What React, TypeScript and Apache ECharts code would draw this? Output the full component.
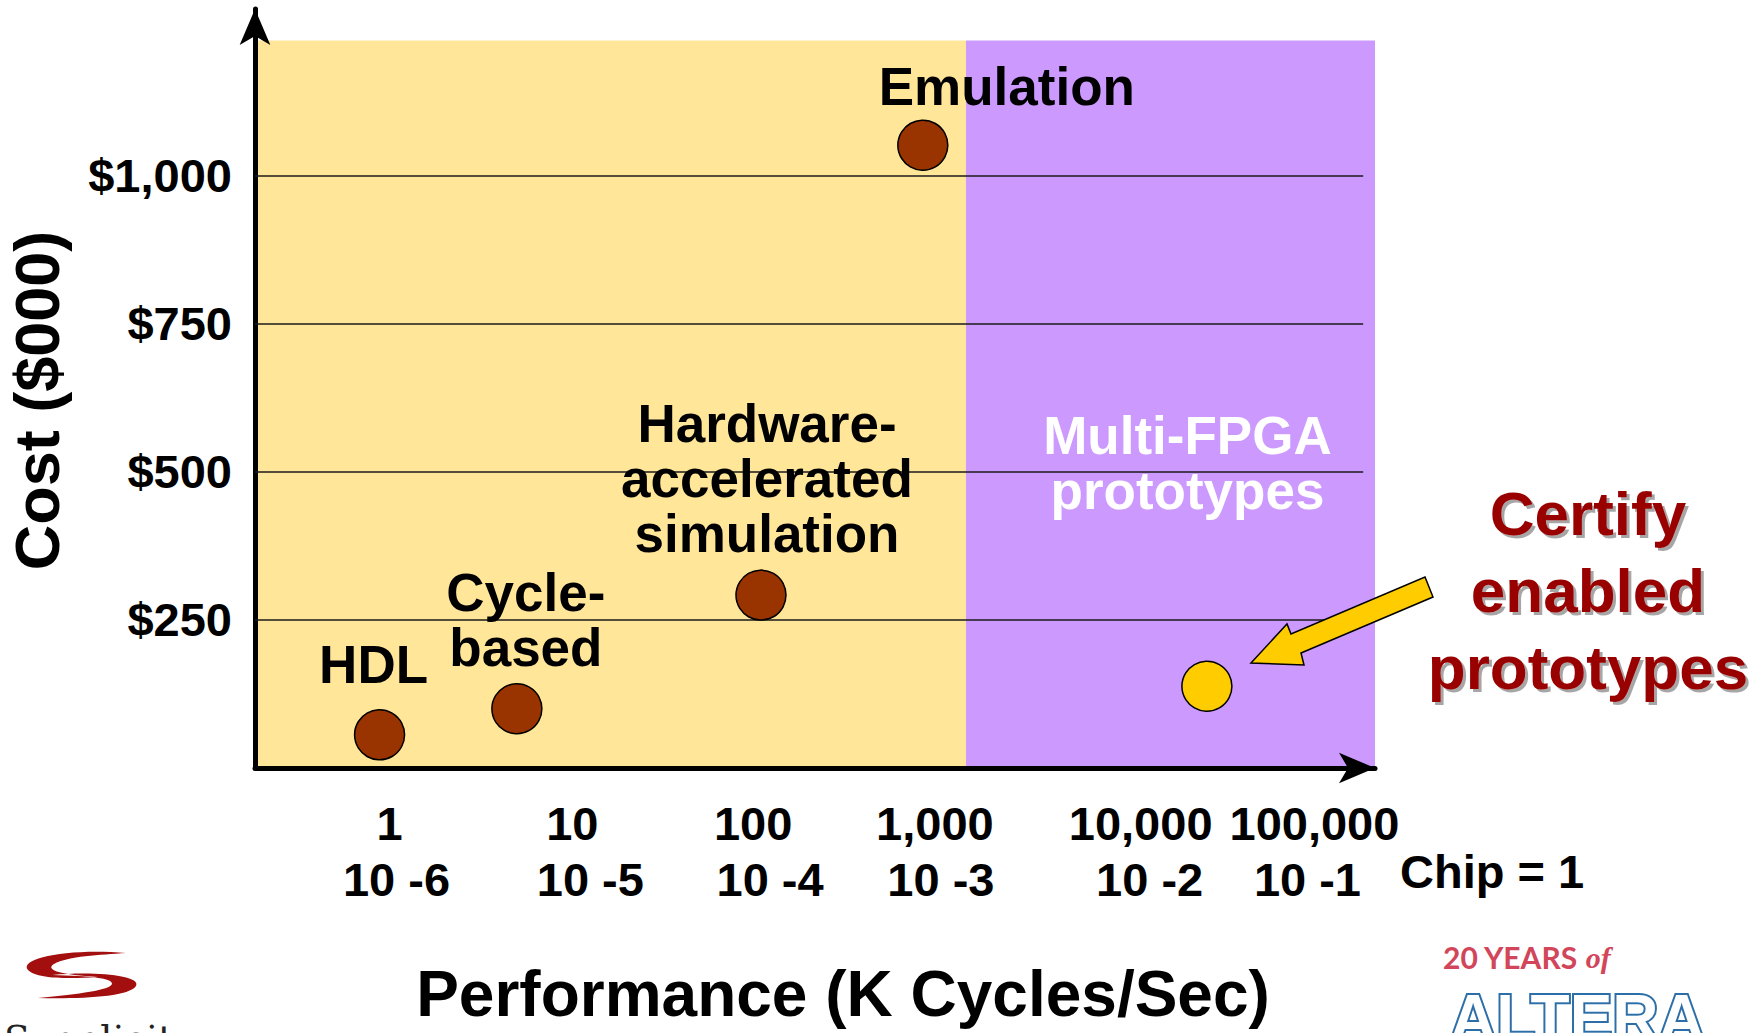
import React, { useEffect, useRef } from "react";
import * as echarts from "echarts";

// ---------------- data ----------------
const TECH_NAMES = ["HDL", "Cycle-based", "Hardware-accelerated simulation", "Emulation", "Certify enabled prototypes"];
const TECH_LABELS = ["HDL", "Cycle-\nbased", "Hardware-\naccelerated\nsimulation", "Emulation", ""];
const PERF_KCPS = [0.87, 5.0, 112, 880, 32800]; // K cycles / sec
const COST_K = [56, 100, 292, 1052, 138]; // $000

const X_TICKS = [1, 10, 100, 1000, 10000, 100000];
const X_TICK_LABELS = ["1", "10", "100", "1,000", "10,000", "100,000"];
const X_CHIP_LABELS = ["10 -6", "10 -5", "10 -4", "10 -3", "10 -2", "10 -1"];
const Y_TICKS = [250, 500, 750, 1000];
const Y_TICK_LABELS = ["$250", "$500", "$750", "$1,000"];

const REGION_LABELS = ["", "Multi-FPGA\nprototypes"];
const REGION_BOUNDS_KCPS = [0.178, 1524, 279000];
const REGION_TOP_COST = 1229;

const X_MIN_KCPS = 0.178;
const X_MAX_KCPS = 279000;
const Y_MAX_COST = 1282;
const GRIDLINE_END_KCPS = 240000;

// ---------------- styles ----------------
const FONT = '"Liberation Sans", Arial, Helvetica, sans-serif';
const DOT_COLORS = ["#993300", "#993300", "#993300", "#993300", "#FFCC00"];
const REGION_COLORS = ["#FFE699", "#CC99FF"];
const LABEL_OFFSETS = [[-6, 0], [9, 0], [6, 0], [84, 0], [0, 0]];
const LABEL_DIST = [17, 8, 8, 5, 0];
const PX_PER_DECADE = 180.77;
const ROW1_NUDGE = [-1, 1, 1, 2, 27, 20];
const ROW2_NUDGE = [6, 19, 18, 8, 36, 13];

const lg = (v: number) => Math.log10(v);
const pad = (n: number) => (n >= 0 ? [0, 0, 0, 2 * n] : [0, -2 * n, 0, 0]);

const SWOOSH =
  "M 126 953 C 70 948 18 958 28 970 C 36 979 70 979 98 977 C 62 975 44 970 54 964 C 68 956 100 955 126 953 Z " +
  "M 52 975 C 92 971 142 975 136 986 C 129 997 80 999 38 998 C 80 994 110 990 112 984 C 113 978 90 976 52 975 Z";

export default function App() {
  const ref = useRef<HTMLDivElement>(null);

  useEffect(() => {
    document.body.style.margin = "0";
    try {
      echarts.graphic.registerShape("synswoosh", echarts.graphic.extendPath(SWOOSH, {}) as any);
    } catch (e) {}
    const chart = echarts.init(ref.current!, null, { renderer: "svg" });

    // label anchor = tick decade, nudged (style) to the slide's hand placement
    const labelAnchors = X_TICKS.map((t, i) => lg(t) + ROW1_NUDGE[i] / PX_PER_DECADE);

    const rich: Record<string, any> = {};
    X_TICKS.forEach((_, i) => {
      rich["a" + i] = { fontSize: 47, fontWeight: "bold", fontFamily: FONT, color: "#000", lineHeight: 56 };
      rich["b" + i] = {
        fontSize: 47,
        fontWeight: "bold",
        fontFamily: FONT,
        color: "#000",
        lineHeight: 56,
        padding: pad(ROW2_NUDGE[i] - ROW1_NUDGE[i]),
      };
    });

    const scatterData = TECH_NAMES.map((name, i) => ({
      name,
      value: [lg(PERF_KCPS[i]), COST_K[i]],
      itemStyle: { color: DOT_COLORS[i] },
      label: {
        show: TECH_LABELS[i] !== "",
        formatter: TECH_LABELS[i],
        offset: LABEL_OFFSETS[i],
        distance: LABEL_DIST[i],
      },
    }));

    const option: any = {
      animation: false,
      backgroundColor: "#fff",
      textStyle: { fontFamily: FONT },
      grid: { left: 255, right: 1755 - 1375, top: 9, bottom: 1033 - 768, containLabel: false, outerBoundsMode: "none" },
      xAxis: {
        type: "value",
        min: lg(X_MIN_KCPS),
        max: lg(X_MAX_KCPS),
        name: "Performance (K Cycles/Sec)",
        nameLocation: "middle",
        nameGap: 194,
        nameTextStyle: { fontSize: 64, fontWeight: "bold", color: "#000", fontFamily: FONT, padding: [0, 0, 0, 56] },
        axisLine: { show: true, onZero: false, lineStyle: { color: "#000", width: 5 }, symbol: ["none", "arrow"], symbolSize: [23, 36] },
        axisTick: { show: false },
        splitLine: { show: false },
        axisLabel: {
          customValues: labelAnchors,
          hideOverlap: false,
          margin: 27,
          formatter: (v: number) => {
            const i = labelAnchors.findIndex((t) => Math.abs(t - v) < 1e-6);
            if (i < 0) return "";
            return "{a" + i + "|" + X_TICK_LABELS[i] + "}\n{b" + i + "|" + X_CHIP_LABELS[i] + "}";
          },
          rich,
        },
      },
      yAxis: {
        type: "value",
        min: 0,
        max: Y_MAX_COST,
        interval: 250,
        name: "Cost ($000)",
        nameLocation: "middle",
        nameGap: 190,
        nameRotate: 90,
        nameTextStyle: { fontSize: 63, lineHeight: 56, fontWeight: "bold", color: "#000", fontFamily: FONT, padding: [0, 24, 0, 0] },
        axisLine: { show: true, onZero: false, lineStyle: { color: "#000", width: 5 }, symbol: ["none", "arrow"], symbolSize: [23, 36] },
        axisTick: { show: false },
        splitLine: { show: false },
        axisLabel: {
          margin: 23,
          fontSize: 47,
          fontWeight: "bold",
          color: "#000",
          fontFamily: FONT,
          showMinLabel: false,
          showMaxLabel: false,
          formatter: (v: number) => {
            const i = Y_TICKS.indexOf(v);
            return i < 0 ? "" : Y_TICK_LABELS[i];
          },
        },
      },
      series: [
        {
          type: "scatter",
          name: "regions",
          data: [],
          z: 0,
          markArea: {
            silent: true,
            z: 0,
            data: REGION_COLORS.map((c, i) => [
              {
                xAxis: lg(REGION_BOUNDS_KCPS[i]),
                yAxis: 0,
                name: REGION_LABELS[i],
                itemStyle: { color: c, borderWidth: 0, opacity: 1 },
                label: {
                  show: REGION_LABELS[i] !== "",
                  position: "insideTop",
                  distance: 0,
                  offset: [17, 368],
                  color: "#fff",
                  fontSize: 53,
                  fontWeight: "bold",
                  fontFamily: FONT,
                  lineHeight: 55,
                  align: "center",
                },
              },
              { xAxis: lg(REGION_BOUNDS_KCPS[i + 1]), yAxis: REGION_TOP_COST },
            ]),
          },
        },
        {
          type: "scatter",
          name: "grid",
          data: [],
          z: 1,
          markLine: {
            silent: true,
            z: 1,
            symbol: ["none", "none"],
            label: { show: false },
            lineStyle: { color: "#1a1a1a", width: 1.6, type: "solid" },
            data: Y_TICKS.map((v) => [
              { coord: [lg(X_MIN_KCPS), v] },
              { coord: [lg(GRIDLINE_END_KCPS), v] },
            ]),
          },
        },
        {
          type: "scatter",
          name: "technologies",
          z: 3,
          symbol: "circle",
          symbolSize: 50,
          itemStyle: { borderColor: "#000", borderWidth: 1.5, opacity: 1 },
          label: {
            show: true,
            position: "top",
            color: "#000",
            fontSize: 53,
            fontWeight: "bold",
            fontFamily: FONT,
            lineHeight: 55,
            align: "center",
          },
          data: scatterData,
        },
      ],
      graphic: [
        {
          type: "polygon",
          z: 20,
          shape: { points: [[1251, 663], [1287, 624], [1291, 634], [1425, 577], [1433, 597], [1301, 653], [1304, 665]] },
          style: { fill: "#FFCC00", stroke: "#000", lineWidth: 1.5 },
        },
        {
          type: "text",
          z: 20,
          x: 1588,
          y: 590,
          style: {
            text: "Certify\nenabled\nprototypes",
            fill: "#990000",
            fontSize: 62,
            fontWeight: "bold",
            fontFamily: FONT,
            lineHeight: 77,
            align: "center",
            textAlign: "center",
            verticalAlign: "middle",
            textVerticalAlign: "middle",
            textShadowColor: "rgba(0,0,0,0.35)",
            textShadowOffsetX: 3,
            textShadowOffsetY: 3,
            textShadowBlur: 1,
          },
        },
        {
          type: "text",
          z: 20,
          x: 1400,
          y: 871,
          style: {
            text: "Chip = 1",
            fill: "#000",
            fontSize: 47,
            fontWeight: "bold",
            fontFamily: FONT,
            align: "left",
            textAlign: "left",
            verticalAlign: "middle",
            textVerticalAlign: "middle",
          },
        },
        {
          type: "synswoosh",
          z: 20,
          x: 0,
          y: 0,
          style: { fill: "#a30e0e" },
        },
        {
          type: "text",
          z: 20,
          x: 4,
          y: 1020,
          style: {
            text: "Synplicity",
            fill: "#222",
            fontSize: 38,
            fontFamily: '"DejaVu Serif", "Liberation Serif", serif',
            align: "left",
            textAlign: "left",
            verticalAlign: "top",
            textVerticalAlign: "top",
          },
        },
        {
          type: "text",
          z: 20,
          x: 1443,
          y: 957,
          style: {
            text: "{a|20 YEARS }{b|of}",
            rich: {
              a: { fontSize: 30, fontWeight: "bold", fontFamily: "Lato, " + FONT, fill: "#d2465a", color: "#d2465a" },
              b: { fontSize: 30, fontWeight: "bold", fontStyle: "italic", fontFamily: '"Liberation Serif", serif', fill: "#d2465a", color: "#d2465a" },
            },
            align: "left",
            textAlign: "left",
            verticalAlign: "middle",
            textVerticalAlign: "middle",
          },
        },
        {
          type: "text",
          z: 20,
          x: 1450,
          y: 986,
          style: {
            text: "ALTERA",
            fill: "#fff",
            stroke: "#2c6ea8",
            lineWidth: 4,
            fontSize: 64,
            fontWeight: "bold",
            fontFamily: FONT,
            align: "left",
            textAlign: "left",
            verticalAlign: "top",
            textVerticalAlign: "top",
          },
        },
      ],
    };

    chart.setOption(option);
    return () => chart.dispose();
  }, []);

  return <div ref={ref} style={{ position: "absolute", left: 0, top: 0, width: 1755, height: 1033 }} />;
}
